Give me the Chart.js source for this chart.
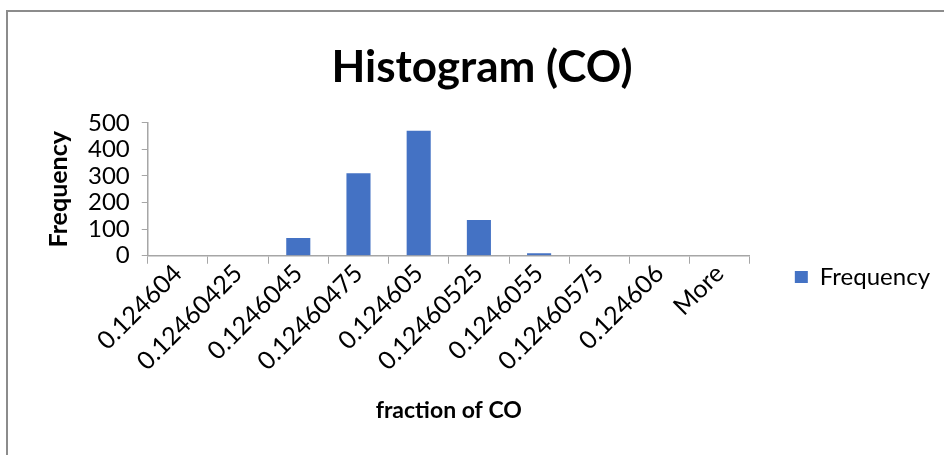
<!DOCTYPE html>
<html>
<head>
<meta charset="utf-8">
<title>Histogram (CO)</title>
<script src="https://cdn.jsdelivr.net/npm/chart.js@4.4.1/dist/chart.umd.min.js"></script>
<style>
  html, body { margin: 0; padding: 0; background: #fff; }
  #wrap {
    position: absolute; left: 6px; top: 10px; right: 0; bottom: 0;
    border-left: 2px solid #8c8c8c; border-top: 2px solid #8c8c8c;
  }
  #chart { display: block; }
</style>
</head>
<body>
<div id="wrap"><canvas id="chart" width="936" height="443"></canvas></div>
<script>
// Bins (upper edges) and counts
const binLabels = ['0.124604', '0.12460425', '0.1246045', '0.12460475', '0.124605',
                   '0.12460525', '0.1246055', '0.12460575', '0.124606', 'More'];
const frequency = [0, 0, 67, 310, 470, 134, 9, 0, 0, 0];
const yTicks = [0, 100, 200, 300, 400, 500];

const FONT = "Lato, 'Open Sans', sans-serif";
const axisGray = '#a6a6a6';

const ctx = document.getElementById('chart').getContext('2d');
new Chart(ctx, {
  type: 'bar',
  data: {
    labels: binLabels,
    datasets: [{
      label: 'Frequency',
      data: frequency,
      backgroundColor: '#4472c4',
      borderWidth: 0,
      barPercentage: 0.4,
      categoryPercentage: 1.0
    }]
  },
  options: {
    responsive: false,
    animation: false,
    layout: { padding: { left: 16, right: 4, top: 0, bottom: 16 } },
    plugins: {
      title: {
        display: true,
        text: 'Histogram (CO)',
        color: '#000',
        font: { family: FONT, size: 44, weight: 'bold' },
        padding: { top: 29, bottom: 29 }
      },
      legend: {
        position: 'right',
        // empty legend title only pushes the single entry down to where Excel centres it
        title: { display: true, text: '', font: { size: 10, lineHeight: 1 }, padding: { top: 93, bottom: 0 } },
        labels: {
          color: '#000',
          boxWidth: 13,
          boxHeight: 12,
          padding: 45,
          font: { family: FONT, size: 24 }
        }
      },
      tooltip: { enabled: false }
    },
    scales: {
      x: {
        offset: true,
        grid: { display: true, drawOnChartArea: false, drawTicks: true, tickLength: 8, color: axisGray, offset: true },
        border: { display: true, color: axisGray, width: 1.5 },
        ticks: {
          color: '#000', maxRotation: 45, minRotation: 45, autoSkip: false, padding: -5,
          font: { family: FONT, size: 25 }
        },
        title: {
          display: true, text: 'fraction of CO', color: '#000',
          font: { family: FONT, size: 23, weight: 'bold' },
          padding: { top: 25, bottom: 15 }
        }
      },
      y: {
        min: yTicks[0],
        max: yTicks[yTicks.length - 1],
        afterBuildTicks: axis => { axis.ticks = yTicks.map(v => ({ value: v })); },
        grid: { display: true, drawOnChartArea: false, drawTicks: true, tickLength: 6, color: axisGray },
        border: { display: true, color: axisGray, width: 1.5 },
        ticks: { color: '#000', padding: 12, autoSkip: false, font: { family: FONT, size: 24 } },
        title: {
          display: true, text: 'Frequency', color: '#000',
          font: { family: FONT, size: 25, weight: 'bold' },
          padding: { top: 20, bottom: 2 }
        }
      }
    }
  }
});
</script>
</body>
</html>
